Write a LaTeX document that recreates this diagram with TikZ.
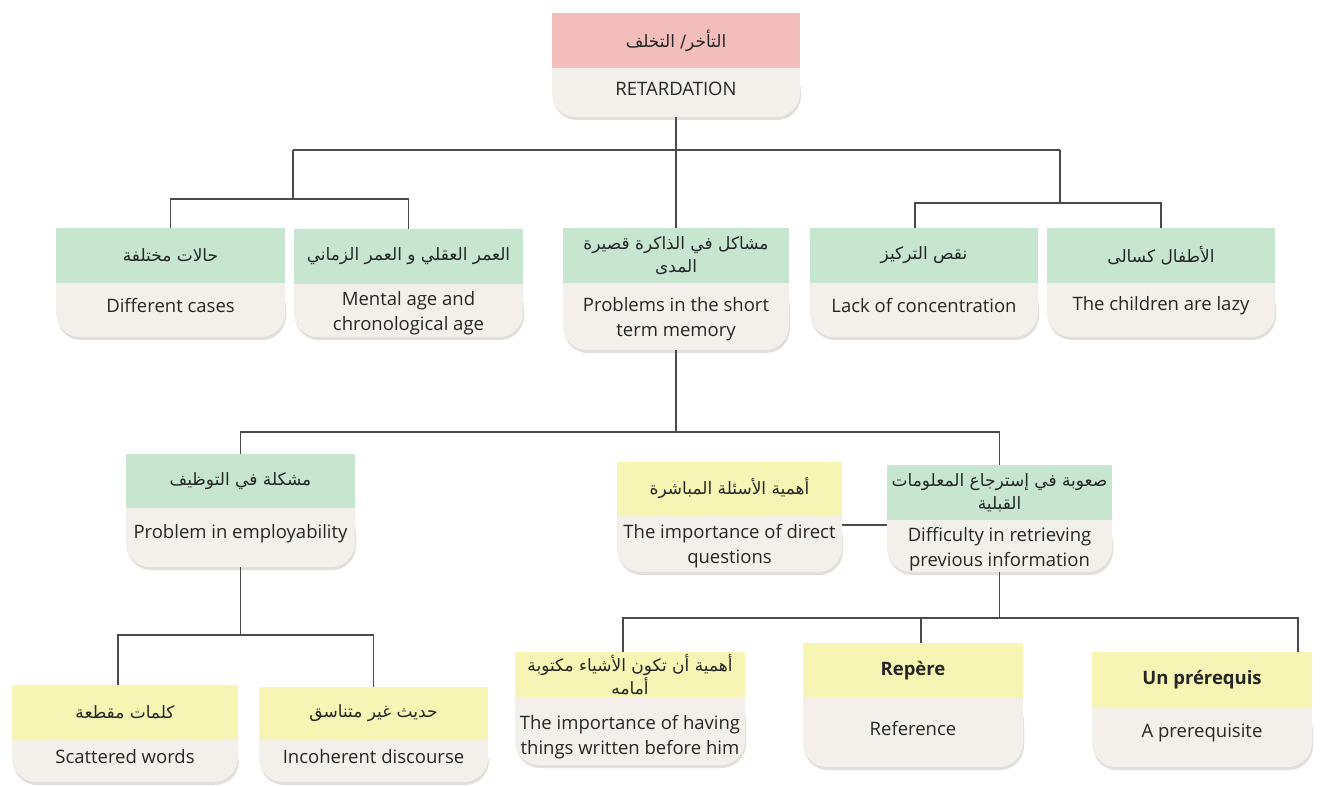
\documentclass[tikz,border=0pt]{standalone}
\usepackage{fontspec}
\setmainfont{Open Sans}
\newfontfamily\arabicfont[Script=Arabic]{DejaVu Sans}
\TeXXeTstate=1
\definecolor{pinkH}{HTML}{F2BDBA}
\definecolor{greenH}{HTML}{C6E6D0}
\definecolor{yellowH}{HTML}{F7F5B3}
\definecolor{beigeB}{HTML}{F3F0EB}
\definecolor{shadowC}{HTML}{E2DFDA}
\definecolor{linec}{HTML}{4A4A4A}
\definecolor{txtc}{HTML}{262626}
\newcommand\AR[1]{{\arabicfont\fontsize{17}{22}\selectfont\beginR #1\endR}}
\newcommand\enfont{\fontsize{18.5}{25}\selectfont}
\def\bshift{-4}
\newcommand\card[9]{%
  \fill[shadowC, rounded corners=24] (#2+1,#4) rectangle (#5+1,#6+3);
  \fill[beigeB, rounded corners=24] (#2,#4-26) rectangle (#5,#6);
  \fill[#7] (#2,#3) rectangle (#5,#4);
  \node[cardtext] (#1-h) at ({(#2+#5)/2},{(#3+#4)/2}) {#8};
  \node[cardtext] (#1-b) at ({(#2+#5)/2},{(#4+#6)/2+\bshift}) {#9};
  \node[inner sep=0, minimum width={(#5-#2)*1pt}, minimum height={(#6-#3)*1pt}] (#1) at ({(#2+#5)/2},{(#3+#6)/2}) {};
}
\begin{document}
\begin{tikzpicture}[x=1pt,y=-1pt,
  conn/.style={draw=linec, line width=1.3pt},
  cardtext/.style={font=\enfont, text=txtc, align=center, inner sep=0pt}]
\useasboundingbox[fill=white] (0,0) rectangle (1328,786);

\card{root}{552}{13}{68}{800}{117}{pinkH}{\AR{التأخر/ التخلف}}{RETARDATION}
\card{c1}{56}{228}{283}{285}{337}{greenH}{\AR{حالات مختلفة}}{Different cases}
\card{c4}{810}{228}{283}{1038}{337}{greenH}{\AR{نقص التركيز}}{Lack of concentration}
\card{c5}{1047}{228}{283}{1275}{337}{greenH}{\AR{الأطفال كسالى}}{The children are lazy}
\card{l1}{126}{454}{508}{355}{567}{greenH}{\AR{مشكلة في التوظيف}}{Problem in employability}
\card{s1}{12}{685}{740}{238}{782}{yellowH}{\AR{كلمات مقطعة}}{Scattered words}
\card{s2}{259}{687}{740}{488}{782}{yellowH}{\AR{حديث غير متناسق}}{Incoherent discourse}
\card{r2}{803}{643}{698}{1023}{767}{yellowH}{\textbf{Repère}}{Reference}
\card{r3}{1092}{652}{707}{1312}{767}{yellowH}{\textbf{Un prérequis}}{A prerequisite}
\def\bshift{3}
\card{c2}{294}{229}{284}{523}{337}{greenH}{\AR{العمر العقلي و العمر الزماني}}{Mental age and\\chronological age}
\card{c3}{563}{228}{283}{789}{350}{greenH}{\AR{مشاكل في الذاكرة قصيرة}\\[-2pt]\AR{المدى}}{Problems in the short\\term memory}
\card{q}{617}{462}{515}{842}{572}{yellowH}{\AR{أهمية الأسئلة المباشرة}}{The importance of direct\\questions}
\card{d}{887}{465}{520}{1112}{572}{greenH}{\AR{صعوبة في إسترجاع المعلومات}\\[-2pt]\AR{القبلية}}{Difficulty in retrieving\\previous information}
\def\bshift{6}
\card{r1}{515}{652}{697}{745}{765}{yellowH}{\AR{أهمية أن تكون الأشياء مكتوبة}\\[-2pt]\AR{أمامه}}{The importance of having\\things written before him}

\coordinate (b1) at (0,150);
\coordinate (b2) at (0,199);
\coordinate (b3) at (0,203);
\coordinate (b4) at (0,432);
\coordinate (b5) at (0,618);
\coordinate (b6) at (0,635);
\coordinate (bq) at (0,525);
\coordinate (jl) at (293,0);
\coordinate (jr) at (1060,0);

\draw[conn] (root.south) -- (c3.north);
\draw[conn] (jl |- b1) -- (jr |- b1);
\draw[conn] (jl |- b1) -- (jl |- b2);
\draw[conn] (c1.north) -- (c1.north |- b2) -- (c2.north |- b2) -- (c2.north);
\draw[conn] (jr |- b1) -- (jr |- b3);
\draw[conn] ([xshift=-9]c4.north) -- ([xshift=-9]c4.north |- b3) -- (c5.north |- b3) -- (c5.north);
\draw[conn] (c3.south) -- (c3.south |- b4);
\draw[conn] (l1.north) -- (l1.north |- b4) -- (d.north |- b4) -- (d.north);
\draw[conn] (q.east |- bq) -- (d.west |- bq);
\draw[conn] (d.south) -- (d.south |- b5);
\draw[conn] ([xshift=-7]r1.north) -- ([xshift=-7]r1.north |- b5) -- ([xshift=96]r3.north |- b5) -- ([xshift=96]r3.north);
\draw[conn] ([xshift=8]r2.north) -- ([xshift=8]r2.north |- b5);
\draw[conn] (l1.south) -- (l1.south |- b6);
\draw[conn] ([xshift=-7]s1.north) -- ([xshift=-7]s1.north |- b6) -- (s2.north |- b6) -- (s2.north);
\end{tikzpicture}
\end{document}
